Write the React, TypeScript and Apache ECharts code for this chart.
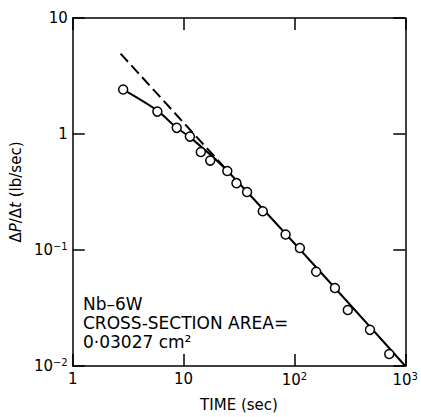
import React, { useEffect, useRef } from "react";
import * as echarts from "echarts";

// Measured points: time (sec), ΔP/Δt (lb/sec)
const pointTimes = [2.85, 5.8, 8.67, 11.4, 14.3, 17.4, 24.8, 30.0, 37.4, 51.8, 83.2, 112, 157, 232, 303, 480, 717];
const pointRates = [2.42, 1.56, 1.13, 0.95, 0.70, 0.59, 0.48, 0.377, 0.316, 0.216, 0.136, 0.104, 0.065, 0.047, 0.0304, 0.0205, 0.0127];

// Solid fitted curve
const curveTimes = [2.89, 5.8, 8.67, 11.4, 24.7, 1000];
const curveRates = [2.40, 1.59, 1.13, 0.94, 0.484, 0.01];

// Dashed straight-line extrapolation
const dashTimes = [2.7, 25];
const dashRates = [4.93, 0.48];

const xTickLabels: Record<number, string> = { 0: "1", 1: "10", 2: "10{s|2}", 3: "10{s|3}" };
const yTickLabels: Record<number, string> = { 1: "10", 0: "1", [-1]: "10{s|−1}", [-2]: "10{s|−2}" };

const annotationLines = ["Nb–6W", "CROSS-SECTION AREA=", "0·03027 cm²"];

const FONT = "DejaVu Sans";

export default function App() {
  const ref = useRef<HTMLDivElement>(null);
  useEffect(() => {
    if (!ref.current) return;
    const chart = echarts.init(ref.current, null, { renderer: "svg" });
    const zip = (a: number[], b: number[]) => a.map((v, i) => [v, b[i]]);
    const axisLine = { show: true, lineStyle: { color: "#000", width: 1.5 } };
    const tick = { show: true, inside: true, length: 12, lineStyle: { color: "#000", width: 1.5 } };
    const rich = { s: { fontSize: 10, fontFamily: FONT, color: "#000", padding: [0, 0, 8, 0] } };
    const tops = [295, 314, 333];
    chart.setOption({
      animation: false,
      backgroundColor: "#fff",
      grid: { left: 68, right: 15, top: 18, bottom: 47, containLabel: false },
      xAxis: [
        {
          type: "log", logBase: 10, min: 1, max: 1000, position: "bottom",
          axisLine, axisTick: tick, splitLine: { show: false }, minorTick: { show: false },
          axisLabel: {
            color: "#000", fontFamily: FONT, fontSize: 15, margin: 5,
            formatter: (v: number) => xTickLabels[Math.round(Math.log10(v))] ?? "",
            rich,
          },
          name: "TIME (sec)", nameLocation: "middle", nameGap: 31,
          nameTextStyle: { color: "#000", fontFamily: FONT, fontSize: 15 },
        },
        {
          type: "log", logBase: 10, min: 1, max: 1000, position: "top",
          axisLine, axisTick: tick, axisLabel: { show: false }, splitLine: { show: false },
        },
      ],
      yAxis: [
        {
          type: "log", logBase: 10, min: 0.01, max: 10, position: "left",
          axisLine, axisTick: tick, splitLine: { show: false },
          axisLabel: {
            color: "#000", fontFamily: FONT, fontSize: 15, margin: 5,
            formatter: (v: number) => yTickLabels[Math.round(Math.log10(v))] ?? "",
            rich,
          },
          name: "Δ{i|P}/Δ{i|t} (lb/sec)", nameLocation: "middle", nameGap: 40,
          nameTextStyle: {
            color: "#000", fontFamily: FONT, fontSize: 15,
            rich: { i: { fontStyle: "italic", fontFamily: FONT, fontSize: 15, color: "#000" } },
          },
        },
        {
          type: "log", logBase: 10, min: 0.01, max: 10, position: "right",
          axisLine, axisTick: tick, axisLabel: { show: false }, splitLine: { show: false },
        },
      ],
      graphic: annotationLines.map((t, i) => ({
        type: "text",
        left: 83,
        top: tops[i],
        style: { text: t, fill: "#000", font: `17px "${FONT}"`, lineHeight: 18 },
      })),
      series: [
        {
          type: "line", data: zip(dashTimes, dashRates), showSymbol: false,
          lineStyle: { color: "#000", width: 2, type: [11, 5] }, z: 2,
        },
        {
          type: "line", data: zip(curveTimes, curveRates), showSymbol: false, smooth: 0.3,
          lineStyle: { color: "#000", width: 2 }, z: 3,
        },
        {
          type: "scatter", data: zip(pointTimes, pointRates), symbol: "circle", symbolSize: 9,
          itemStyle: { color: "#fff", borderColor: "#000", borderWidth: 1.5, opacity: 1 }, z: 5,
        },
      ],
    });
    return () => chart.dispose();
  }, []);
  return <div ref={ref} style={{ width: 421, height: 417, position: "absolute", left: 0, top: 0 }} />;
}
